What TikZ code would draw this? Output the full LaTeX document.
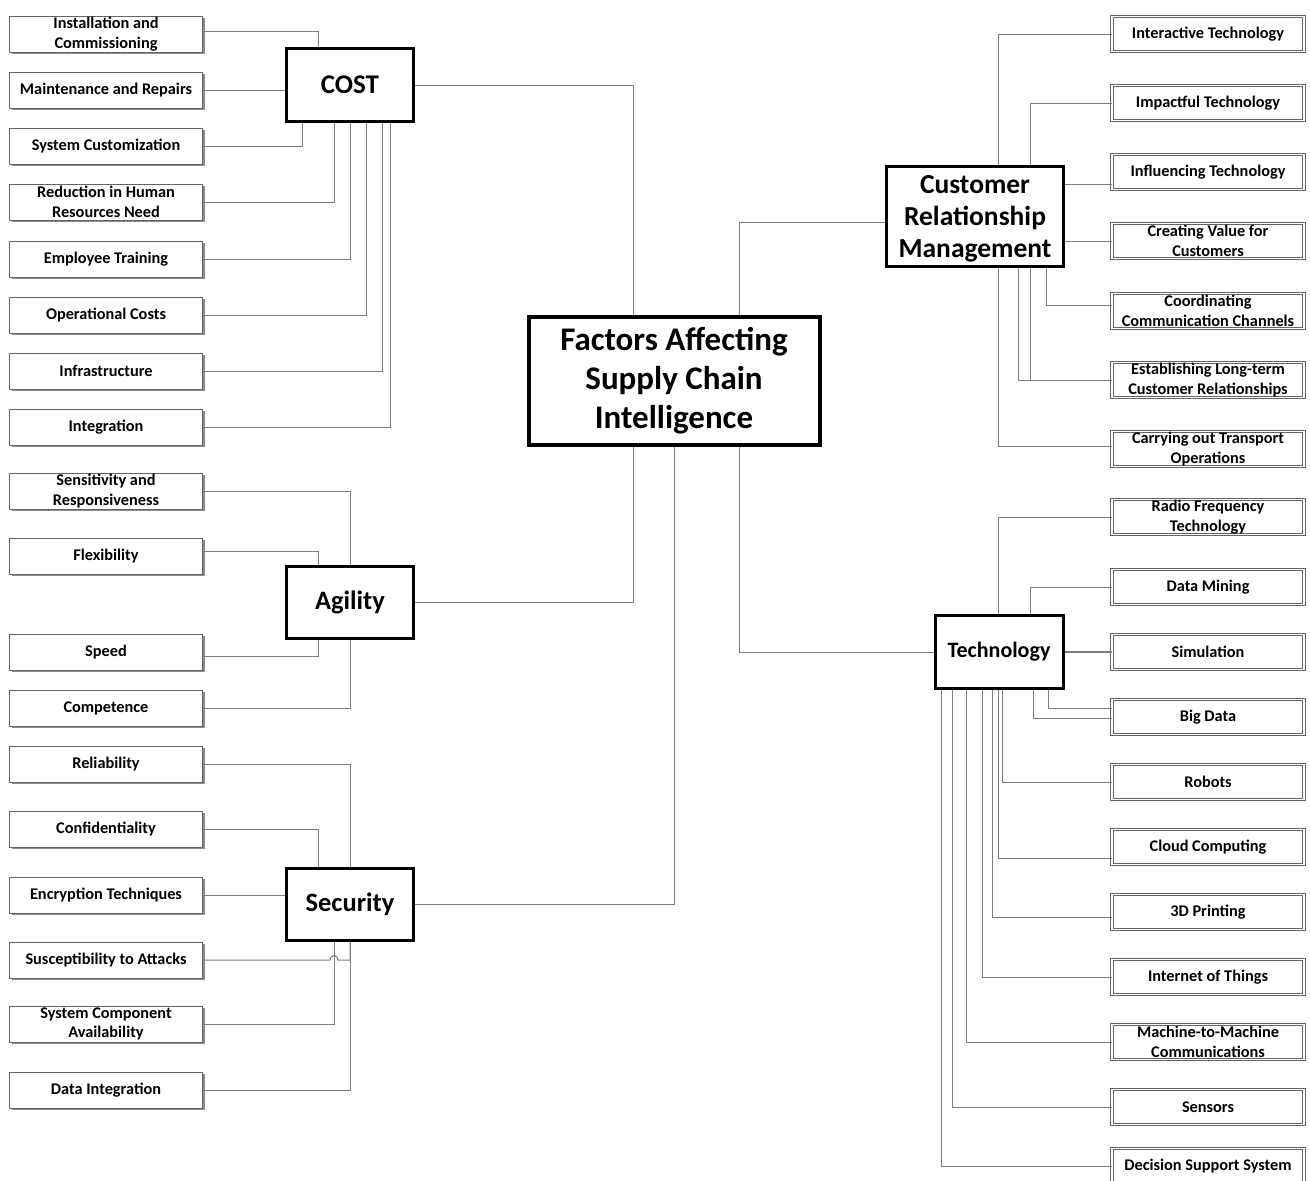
\documentclass[tikz,border=0pt]{standalone}
\usepackage{fontspec}
\setmainfont{Carlito}
\usetikzlibrary{shadows,calc}
\definecolor{linec}{RGB}{125,125,125}
\definecolor{leafb}{RGB}{100,100,100}
\tikzset{
  leafL/.style={draw=leafb, fill=white, line width=0.8pt, minimum width=193pt, minimum height=36pt,
    inner sep=0.5pt, align=center, font=\fontsize{16.3}{19.5}\selectfont\bfseries,
    drop shadow={shadow xshift=2.4pt, shadow yshift=-2.4pt, fill=gray!95, opacity=0.95}},
  leafR/.style={draw=leafb, fill=white, line width=0.9pt, double=white, double distance=1.4pt,
    minimum width=192pt, minimum height=35pt, inner sep=0.5pt, align=center,
    font=\fontsize{16.3}{19.5}\selectfont\bfseries},
  mainbox/.style={draw=black, fill=white, line width=3pt, align=center, inner sep=2pt},
  conn/.style={draw=linec, line width=1pt},
}
\begin{document}
\begin{tikzpicture}[x=1pt,y=-1pt]
\useasboundingbox (0,0) rectangle (1310,1181);
% main boxes
\node[mainbox, line width=4pt, minimum width=291pt, minimum height=128pt,
  font=\fontsize{33}{39}\selectfont\bfseries] (central) at (674,381) {Factors Affecting\\Supply Chain\\Intelligence};
\node[mainbox, minimum width=127pt, minimum height=73pt, font=\fontsize{27}{32}\selectfont\bfseries] (cost) at (350,85) {COST};
\node[mainbox, minimum width=127pt, minimum height=72pt, font=\fontsize{26.5}{32}\selectfont\bfseries] (agility) at (350,602) {Agility};
\node[mainbox, minimum width=127pt, minimum height=72pt, font=\fontsize{26.5}{32}\selectfont\bfseries] (security) at (350,904) {Security};
\node[mainbox, minimum width=177pt, minimum height=100pt] (crm) at (975,216) {};
\node[align=center, inner sep=0pt, font=\fontsize{27.5}{32}\selectfont\bfseries] (crmtext) at (975,219) {Customer\\Relationship\\Management};
\node[mainbox, minimum width=128pt, minimum height=73pt, font=\fontsize{22}{26}\selectfont\bfseries] (tech) at (999,652) {Technology};

% left leaves
\node[leafL] (inst) at (106,34) {Installation and\\Commissioning};
\node[leafL] (maint) at (106,90) {Maintenance and Repairs};
\node[leafL] (cust) at (106,146) {System Customization};
\node[leafL] (red) at (106,202) {Reduction in Human\\Resources Need};
\node[leafL] (emp) at (106,259) {Employee Training};
\node[leafL] (oper) at (106,315) {Operational Costs};
\node[leafL] (infra) at (106,371) {Infrastructure};
\node[leafL] (integ) at (106,427) {Integration};
\node[leafL] (sens) at (106,491) {Sensitivity and\\Responsiveness};
\node[leafL] (flex) at (106,556) {Flexibility};
\node[leafL] (speed) at (106,652) {Speed};
\node[leafL] (comp) at (106,708) {Competence};
\node[leafL] (rel) at (106,764) {Reliability};
\node[leafL] (conf) at (106,829) {Confidentiality};
\node[leafL] (enc) at (106,895) {Encryption Techniques};
\node[leafL] (susc) at (106,960) {Susceptibility to Attacks};
\node[leafL] (sca) at (106,1024) {System Component\\Availability};
\node[leafL] (di) at (106,1090) {Data Integration};

% right leaves
\node[leafR] (inter) at (1208,34) {Interactive Technology};
\node[leafR] (impact) at (1208,103) {Impactful Technology};
\node[leafR] (infl) at (1208,172) {Influencing Technology};
\node[leafR] (value) at (1208,241) {Creating Value for\\Customers};
\node[leafR] (coord) at (1208,311) {Coordinating\\Communication Channels};
\node[leafR] (estab) at (1208,380) {Establishing Long-term\\Customer Relationships};
\node[leafR] (carry) at (1208,449) {Carrying out Transport\\Operations};
\node[leafR] (rf) at (1208,517) {Radio Frequency\\Technology};
\node[leafR] (dm) at (1208,587) {Data Mining};
\node[leafR] (sim) at (1208,652) {Simulation};
\node[leafR] (bd) at (1208,717) {Big Data};
\node[leafR] (rob) at (1208,782) {Robots};
\node[leafR] (cloud) at (1208,847) {Cloud Computing};
\node[leafR] (print) at (1208,912) {3D Printing};
\node[leafR] (iot) at (1208,977) {Internet of Things};
\node[leafR] (mtm) at (1208,1042) {Machine-to-Machine\\Communications};
\node[leafR] (sensr) at (1208,1107) {Sensors};
\node[leafR] (dss) at (1208,1166) {Decision Support System};

% central connectors
\draw[conn] (cost.east) -| ([xshift=-41pt]central.north);
\draw[conn] (agility.east) -| ([xshift=-41pt]central.south);
\draw[conn] (security.east) -| (central.south);
\draw[conn] ([yshift=-6pt]crm.west) -| ([xshift=65pt]central.north);
\draw[conn] (tech.west) -| ([xshift=65pt]central.south);

% cost
\draw[conn] (inst.east) ++(0,-3) coordinate (p1) -| ([xshift=-32pt]cost.north);
\draw[conn] (maint.east) -- (maint.east -| cost.west);
\draw[conn] (cust.east) -| ([xshift=-48pt]cost.south);
\draw[conn] (red.east) -| ([xshift=-16pt]cost.south);
\draw[conn] (emp.east) -| (cost.south);
\draw[conn] (oper.east) -| ([xshift=16pt]cost.south);
\draw[conn] (infra.east) -| ([xshift=32pt]cost.south);
\draw[conn] (integ.east) -| ([xshift=40pt]cost.south);

% agility
\draw[conn] (sens.east) -| (agility.north);
\draw[conn] (flex.east) ++(0,-5) coordinate (p2) -| ([xshift=-32pt]agility.north);
\draw[conn] (speed.east) ++(0,4) coordinate (p3) -| ([xshift=-32pt]agility.south);
\draw[conn] (comp.east) -| (agility.south);

% security
\draw[conn] (rel.east) -| (security.north);
\draw[conn] (conf.east) -| ([xshift=-32pt]security.north);
\draw[conn] (enc.east) -- (enc.east -| security.west);
\coordinate (sx) at (susc.east -| security.south);
\draw[conn] (susc.east) -- ($(sx)+(-20,0)$) .. controls +(0,-6) and +(0,-6) .. ($(sx)+(-12,0)$) -- (sx) -- (security.south);
\draw[conn] (sca.east) -| ([xshift=-16pt]security.south);
\draw[conn] (di.east) -| (security.south);

% crm
\draw[conn] (inter.west) -| ([xshift=23pt]crm.north);
\draw[conn] (impact.west) -| ([xshift=55pt]crm.north);
\draw[conn] (infl.west) ++(0,12) coordinate (p4) -- (p4 -| crm.east);
\draw[conn] (value.west) -- (value.west -| crm.east);
\draw[conn] (coord.west) ++(0,-6) coordinate (p5) -| ([xshift=71pt]crm.south);
\draw[conn] (estab.west) -| ([xshift=43pt]crm.south);
\draw[conn] (estab.west) -| ([xshift=55pt]crm.south);
\draw[conn] (carry.west) ++(0,-3) coordinate (p6) -| ([xshift=23pt]crm.south);

% technology
\draw[conn] (rf.west) -| ([xshift=-1pt]tech.north);
\draw[conn] (dm.west) -| ([xshift=31pt]tech.north);
\draw[conn, line width=1.6pt] (sim.west) -- (sim.west -| tech.east);
\draw[conn] (bd.west) ++(0,-9) coordinate (p7) -| ([xshift=49pt]tech.south);
\draw[conn] (bd.west) ++(0,1) coordinate (p8) -| ([xshift=34pt]tech.south);
\draw[conn] (rob.west) -| ([xshift=3pt]tech.south);
\draw[conn] (cloud.west) ++(0,11) coordinate (p9) -| ([xshift=-1pt]tech.south);
\draw[conn] (print.west) ++(0,5) coordinate (p10) -| ([xshift=-7pt]tech.south);
\draw[conn] (iot.west) -| ([xshift=-17pt]tech.south);
\draw[conn] (mtm.west) -| ([xshift=-33pt]tech.south);
\draw[conn] (sensr.west) -| ([xshift=-47pt]tech.south);
\draw[conn] (dss.west) -| ([xshift=-58pt]tech.south);
\end{tikzpicture}
\end{document}
